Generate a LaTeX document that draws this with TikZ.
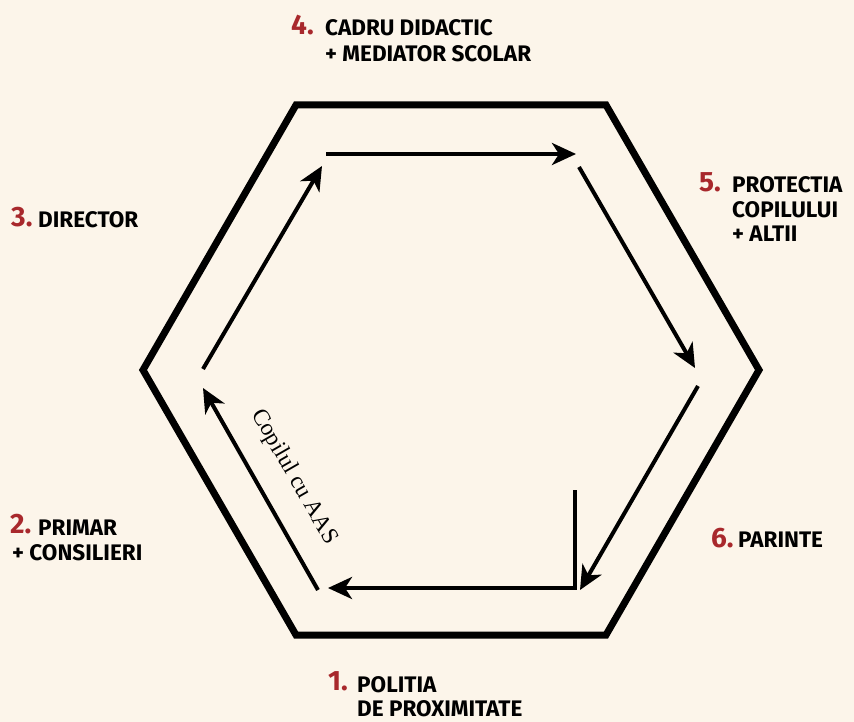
\documentclass[tikz,border=0pt]{standalone}
\usepackage{fontspec}
\setmainfont{Liberation Serif}
\newfontfamily\labfont{Fira Sans}
\usetikzlibrary{arrows.meta}
\definecolor{bgcream}{HTML}{FCF5EA}
\definecolor{numred}{HTML}{A8282C}
\tikzset{
  hexline/.style={line width=7pt, line join=miter},
  flow/.style={line width=4pt, -{Stealth[length=24pt,width=22pt,inset=7pt]}},
  plainflow/.style={line width=4pt, line join=miter},
  lab/.style={font=\labfont\bfseries\fontsize{22.5}{26}\selectfont, anchor=base west, inner sep=0pt, text=black},
  num/.style={font=\labfont\bfseries\fontsize{28}{30}\selectfont, anchor=base west, inner sep=0pt, text=numred},
}
\begin{document}
\begin{tikzpicture}[x=1pt,y=-1pt]
\fill[bgcream] (0,0) rectangle (854,722);
\useasboundingbox (0,0) rectangle (854,722);
% hexagon
\coordinate (h1) at (296,105);
\coordinate (h2) at (606,105);
\coordinate (h3) at (759,370);
\coordinate (h4) at (606,635);
\coordinate (h5) at (296,635);
\coordinate (h6) at (143,370);
\draw[hexline] (h1) -- (h2) -- (h3) -- (h4) -- (h5) -- (h6) -- cycle;
% inner flow
\coordinate (a1) at (326,154);
\coordinate (a2) at (576,154);
\coordinate (b1) at (579,167);
\coordinate (b2) at (695,368);
\coordinate (c1) at (698,386);
\coordinate (c2) at (580,590);
\coordinate (d0) at (575,490);
\coordinate (d1) at (575,588);
\coordinate (d2) at (328,588);
\coordinate (e1) at (318,590);
\coordinate (e2) at (203,388);
\coordinate (f1) at (203,369);
\coordinate (f2) at (322,166);
\draw[flow] (a1) -- (a2);
\draw[flow] (b1) -- (b2);
\draw[flow] (c1) -- (c2);
\draw[plainflow] (d0) -- (d1) -- ++(-20,0);
\draw[flow] (d1) -- (d2);
\draw[flow] (e1) -- (e2);
\draw[flow] (f1) -- (f2);
\node[rotate=-60, font=\fontsize{23.5}{25}\selectfont, inner sep=0pt] (child) at (294,477) {Copilul cu AAS};
% labels
\node[num] (n4) at (291,35) {4.};
\node[lab] (t4a) at (325,36) {CADRU DIDACTIC};
\node[lab] (t4b) at (325,62) {+ MEDIATOR SCOLAR};
\node[num] (n5) at (699,192) {5.};
\node[lab] (t5a) at (732,193) {PROTECTIA};
\node[lab] (t5b) at (732,218) {COPILULUI};
\node[lab] (t5c) at (732,242) {+ ALTII};
\node[num] (n3) at (11,227) {3.};
\node[lab] (t3) at (38,228) {DIRECTOR};
\node[num] (n2) at (10,533) {2.};
\node[lab] (t2a) at (38,535) {PRIMAR};
\node[lab] (t2b) at (12,560) {+ CONSILIERI};
\node[num] (n6) at (711,547) {6.};
\node[lab] (t6) at (738,547) {PARINTE};
\node[num] (n1) at (328,690) {1.};
\node[lab] (t1a) at (357,692) {POLITIA};
\node[lab] (t1b) at (357,716) {DE PROXIMITATE};
\end{tikzpicture}
\end{document}
